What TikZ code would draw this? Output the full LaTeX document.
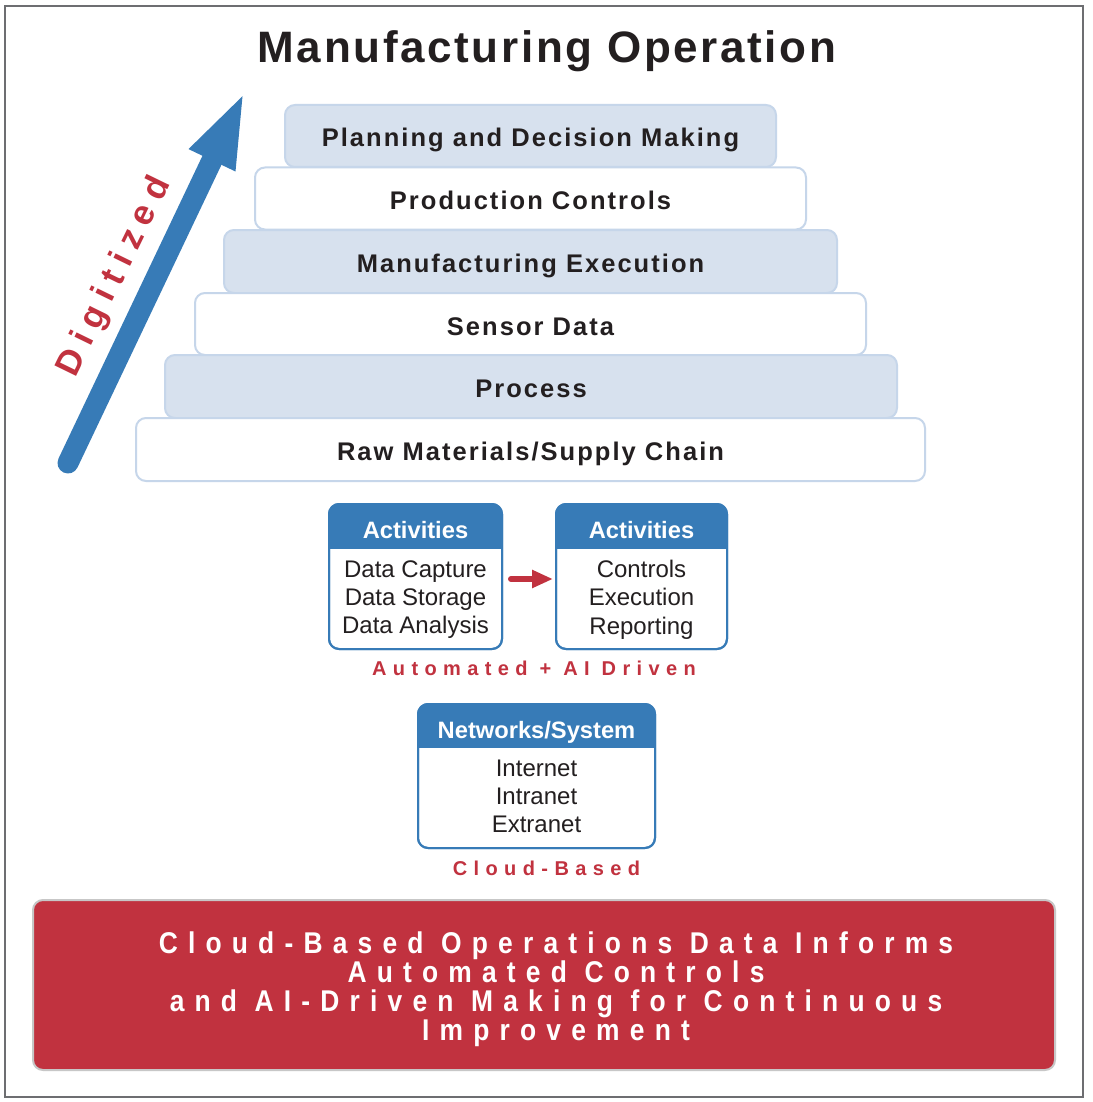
\documentclass[tikz,border=0pt]{standalone}
\usepackage{fontspec}
\setmainfont{Liberation Sans}
\newfontfamily\titlefont{Liberation Sans}[LetterSpace=6]
\newfontfamily\layerfont{Liberation Sans}[LetterSpace=8]
\newfontfamily\spacedfont{Liberation Sans}[LetterSpace=32]
\newfontfamily\digitfont{Liberation Sans}[LetterSpace=25.5]
\newfontfamily\narrowfont{Liberation Sans}[FakeStretch=0.88,LetterSpace=34]
\usetikzlibrary{arrows.meta,calc}
\definecolor{cred}{HTML}{C1323F}
\definecolor{cblue}{HTML}{377BB7}
\definecolor{lfill}{HTML}{D7E1EE}
\definecolor{lborder}{HTML}{C6D6EA}
\definecolor{ink}{HTML}{231F20}
\definecolor{framegray}{HTML}{6D6E71}
\begin{document}
\begin{tikzpicture}[x=1pt,y=-1pt,
  layer/.style={draw=lborder, line width=2pt, rounded corners=10pt, outer sep=0pt, inner sep=0pt,
    text height=22pt, text depth=0pt, text=ink, font=\layerfont\bfseries\fontsize{25.5}{25.5}\selectfont},
  shadedlayer/.style={layer, fill=lfill},
  plainlayer/.style={layer, fill=white},
  boxframe/.style={draw=cblue, line width=2pt, rounded corners=10pt, outer sep=0pt, fill=white},
  hdr/.style={text=white, inner sep=0pt, font=\bfseries\fontsize{23.7}{23.7}\selectfont},
  bodytext/.style={text=ink, inner sep=0pt, align=center, font=\fontsize{24}{28.3}\selectfont},
  redlabel/.style={text=cred, inner sep=0pt, font=\spacedfont\bfseries\fontsize{20}{20}\selectfont},
]
\useasboundingbox (0,0) rectangle (1092,1102);
\fill[white] (0,0) rectangle (1092,1102);
\draw[framegray, line width=1.2pt] (5,6) rectangle (1083,1097);

% title
\node[anchor=base, text=ink, inner sep=0pt, font=\titlefont\bfseries\fontsize{44}{44}\selectfont] (title) at (547,63) {Manufacturing Operation};

% pyramid
\node[shadedlayer, minimum width=491pt, minimum height=62pt] (l1) at (530.5,136) {Planning and Decision Making};
\node[plainlayer, minimum width=551pt, minimum height=62pt] (l2) at (530.5,198.5) {Production Controls};
\node[shadedlayer, minimum width=613pt, minimum height=63pt] (l3) at (530.5,261.5) {Manufacturing Execution};
\node[plainlayer, minimum width=671pt, minimum height=62pt] (l4) at (530.5,324) {Sensor Data};
\node[shadedlayer, minimum width=732pt, minimum height=63pt] (l5) at (531,386.5) {Process};
\node[plainlayer, minimum width=789pt, minimum height=63pt] (l6) at (530.5,449.5) {Raw Materials/Supply Chain};

% digitized arrow
\coordinate (abase) at (68,463);
\coordinate (ashaft) at (214,156);
\coordinate (atip) at (242.5,96.2);
\coordinate (awl) at (188.5,149.1);
\coordinate (awr) at (235.5,171.5);
\draw[cblue, line width=21pt, line cap=round] (abase) -- (ashaft);
\fill[cblue] (atip) -- (awl) -- (awr) -- cycle;
\node[rotate=64, text=cred, inner sep=0pt, font=\digitfont\bfseries\fontsize{35}{35}\selectfont] (digit) at (115,277) {Digitized};

% activity boxes
\node[boxframe, minimum width=173pt, minimum height=145pt] (act1) at (415.5,576.5) {};
\node[boxframe, minimum width=171pt, minimum height=145pt] (act2) at (641.5,576.5) {};
\node[boxframe, minimum width=237pt, minimum height=144pt] (net) at (536.5,776) {};
\begin{scope}
  \clip[rounded corners=10pt] (act1.north west) rectangle (act1.south east);
  \fill[cblue] (act1.north west) rectangle ($(act1.north east)+(0,45)$);
\end{scope}
\begin{scope}
  \clip[rounded corners=10pt] (act2.north west) rectangle (act2.south east);
  \fill[cblue] (act2.north west) rectangle ($(act2.north east)+(0,45)$);
\end{scope}
\begin{scope}
  \clip[rounded corners=10pt] (net.north west) rectangle (net.south east);
  \fill[cblue] (net.north west) rectangle ($(net.north east)+(0,44)$);
\end{scope}
\draw[cblue, line width=2pt, rounded corners=10pt] (act1.north west) rectangle (act1.south east);
\draw[cblue, line width=2pt, rounded corners=10pt] (act2.north west) rectangle (act2.south east);
\draw[cblue, line width=2pt, rounded corners=10pt] (net.north west) rectangle (net.south east);

\node[hdr, anchor=base] (act1h) at ($(act1.north)+(0,34)$) {Activities};
\node[hdr, anchor=base] (act2h) at ($(act2.north)+(0,34)$) {Activities};
\node[hdr, anchor=base] (neth) at ($(net.north)+(0,34)$) {Networks/System};

\node[bodytext] (act1b) at ($(act1.north)+(0,95.5)$) {Data Capture\\Data Storage\\Data Analysis};
\node[bodytext] (act2b) at ($(act2.north)+(0,95.5)$) {Controls\\Execution\\Reporting};
\node[bodytext] (netb) at ($(net.north)+(0,92.5)$) {Internet\\Intranet\\Extranet};

\draw[cred, line width=6pt, line cap=round, -{Triangle[length=21pt,width=17pt]}]
  ($(act1.east)+(9,2.5)$) -- ($(act2.west)+(-3,2.5)$);

\node[redlabel, anchor=base] (autolab) at (534,675) {Automated + AI Driven};
\node[redlabel, anchor=base] (cloudlab) at (546.5,875) {Cloud-Based};

% summary box
\node[fill=cred, draw=black!22, line width=2pt, rounded corners=10pt, minimum width=1022pt, minimum height=170pt, outer sep=0pt] (summary) at (544,985) {};
\node[text=white, inner sep=0pt, align=center, font=\narrowfont\bfseries\fontsize{30}{29}\selectfont] (summarytext) at ($(summary.center)+(12,4)$)
  {Cloud-Based Operations Data Informs\\Automated Controls\\and AI-Driven Making for Continuous\\Improvement};
\end{tikzpicture}
\end{document}
